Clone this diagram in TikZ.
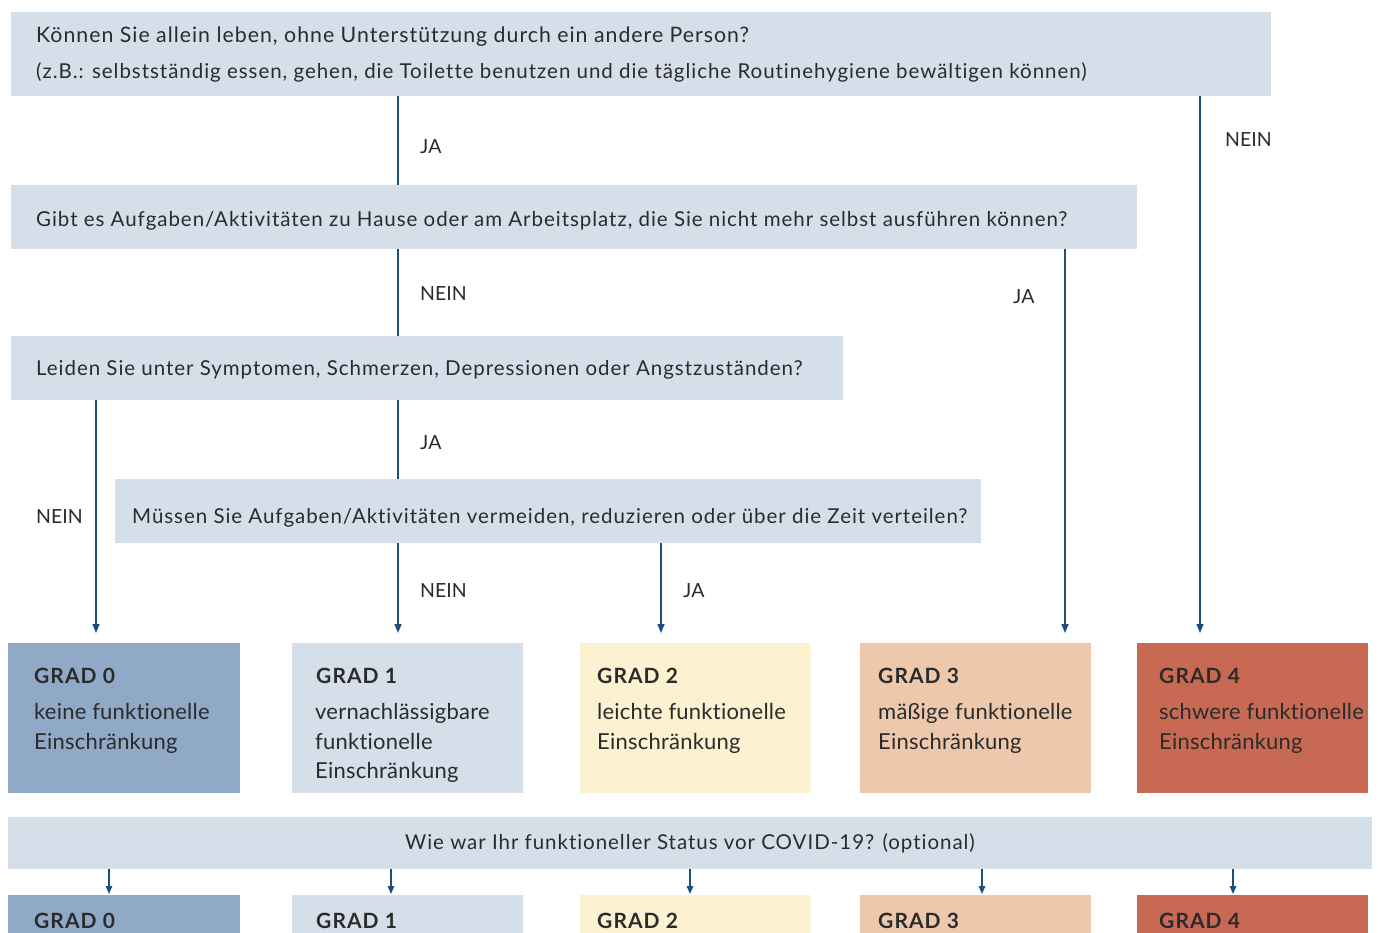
\documentclass[tikz,border=0pt]{standalone}
\usepackage{fontspec}
\setmainfont{Lato}
\newfontfamily\qfont[LetterSpace=4.7, Ligatures=NoCommon]{Lato}
\newfontfamily\gfont[LetterSpace=5, Ligatures=NoCommon]{Lato}
\newfontfamily\tfont[LetterSpace=1, Ligatures=NoCommon]{Lato}
\usetikzlibrary{arrows.meta}
\definecolor{qbox}{HTML}{D5DFE9}
\definecolor{gzero}{HTML}{8FA9C6}
\definecolor{gone}{HTML}{D5DFE9}
\definecolor{gtwo}{HTML}{FCF1D0}
\definecolor{gthree}{HTML}{EEC8AD}
\definecolor{gfour}{HTML}{C86954}
\definecolor{flow}{HTML}{1F4E7A}
\definecolor{ink}{HTML}{2B2B2B}
\tikzset{
  x=1pt, y=-1pt,
  qtext/.style={anchor=base west, inner sep=0pt, text=ink, font=\qfont\fontsize{20.5}{24}\selectfont},
  lbl/.style={anchor=base west, inner sep=0pt, text=ink, font=\fontsize{19.5}{24}\selectfont},
  gtitle/.style={anchor=base west, inner sep=0pt, text=ink, font=\gfont\fontsize{21}{24}\selectfont\bfseries},
  gtext/.style={anchor=base west, inner sep=0pt, text=ink, font=\tfont\fontsize{22}{29.5}\selectfont, align=left},
  link/.style={draw=flow, line width=1.4pt},
  arr/.style={link, -{Triangle[length=9pt, width=7pt]}},
  sarr/.style={link, -{Triangle[length=8pt, width=6.5pt]}},
}
\begin{document}
\begin{tikzpicture}
\useasboundingbox (0,0) rectangle (1378,933);
\clip (0,0) rectangle (1378,933);

% question boxes
\fill[qbox] (11,12) rectangle (1271,96);
\node[qtext, font=\qfont\fontsize{21.3}{24}\selectfont] (q1a) at (36,43) {Können Sie allein leben, ohne Unterstützung durch ein andere Person?};
\node[qtext] (q1b) at (36,79) {(z.B.: selbstständig essen, gehen, die Toilette benutzen und die tägliche Routinehygiene bewältigen können)};
\fill[qbox] (11,185) rectangle (1137,249);
\node[qtext] (q2) at (36,227) {Gibt es Aufgaben/Aktivitäten zu Hause oder am Arbeitsplatz, die Sie nicht mehr selbst ausführen können?};
\fill[qbox] (11,336) rectangle (843,400);
\node[qtext] (q3) at (36,375) {Leiden Sie unter Symptomen, Schmerzen, Depressionen oder Angstzuständen?};
\fill[qbox] (115,479) rectangle (981,543);
\node[qtext] (q4) at (132,523) {Müssen Sie Aufgaben/Aktivitäten vermeiden, reduzieren oder über die Zeit verteilen?};

% grade boxes (outcome row and pre-COVID row)
\foreach \xa/\xb/\xt/\c/\n in {8/240/34/gzero/0, 292/523/316/gone/1, 580/811/597/gtwo/2, 860/1091/878/gthree/3, 1137/1368/1159/gfour/4}{
  \fill[\c] (\xa,643) rectangle (\xb,793);
  \node[gtitle] (g\n) at (\xt,683) {GRAD \n};
  \fill[\c] (\xa,895) rectangle (\xb,940);
  \node[gtitle] (h\n) at (\xt,928) {GRAD \n};
}
\node[gtext] (t0) at (34,749) {keine funktionelle\\Einschränkung};
\node[gtext] (t1) at (315,778.5) {vernachlässigbare\\funktionelle\\Einschränkung};
\node[gtext] (t2) at (597,749) {leichte funktionelle\\Einschränkung};
\node[gtext] (t3) at (878,749) {mäßige funktionelle\\Einschränkung};
\node[gtext] (t4) at (1159,749) {schwere funktionelle\\Einschränkung};

% pre-COVID question
\fill[qbox] (8,817) rectangle (1372,869);
\node[qtext, anchor=base] (q5) at (690,849) {Wie war Ihr funktioneller Status vor COVID-19? (optional)};

% connectors
\coordinate (a1) at (398,96);  \coordinate (b1) at (398,185);
\coordinate (a2) at (398,249); \coordinate (b2) at (398,336);
\coordinate (a3) at (398,400); \coordinate (b3) at (398,479);
\coordinate (a4) at (398,543); \coordinate (e1) at (398,633);
\coordinate (a5) at (661,543); \coordinate (e2) at (661,633);
\coordinate (a6) at (96,400);  \coordinate (e0) at (96,633);
\coordinate (a7) at (1065,249);\coordinate (e3) at (1065,633);
\coordinate (a8) at (1200,96); \coordinate (e4) at (1200,633);
\draw[link] (a1) -- (b1);
\draw[link] (a2) -- (b2);
\draw[link] (a3) -- (b3);
\draw[arr] (a4) -- (e1);
\draw[arr] (a5) -- (e2);
\draw[arr] (a6) -- (e0);
\draw[arr] (a7) -- (e3);
\draw[arr] (a8) -- (e4);

\node[lbl] (l1) at (420,154) {JA};
\node[lbl] (l2) at (1225,147) {NEIN};
\node[lbl] (l3) at (420,301) {NEIN};
\node[lbl] (l4) at (1013,303) {JA};
\node[lbl] (l5) at (420,449) {JA};
\node[lbl] (l6) at (36,523) {NEIN};
\node[lbl] (l7) at (420,597) {NEIN};
\node[lbl] (l8) at (683,597) {JA};

% arrows into the pre-COVID grades
\foreach \x/\n in {109/0, 391/1, 690/2, 982/3, 1233/4}{
  \coordinate (s\n) at (\x,869);
  \coordinate (d\n) at (\x,894);
  \draw[sarr] (s\n) -- (d\n);
}
\end{tikzpicture}
\end{document}
